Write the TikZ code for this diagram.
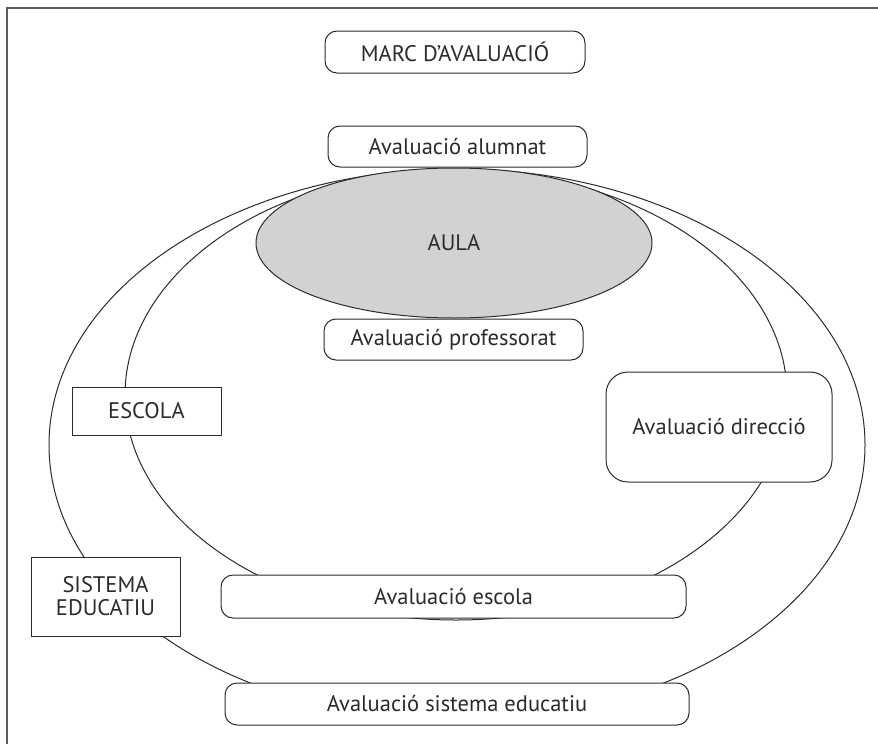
\documentclass[tikz,border=0pt]{standalone}
\usepackage{fontspec}
\setmainfont{PT Sans}
\usetikzlibrary{shapes.geometric}
\definecolor{ink}{HTML}{2B2B2B}
\definecolor{frame}{HTML}{5A5A5A}
\definecolor{aulagray}{HTML}{D1D2D4}
\tikzset{
  lbl/.style={font=\fontsize{22.5}{25}\selectfont, text=ink},
  rbox/.style={lbl, draw=ink, line width=1pt, fill=white, rounded corners=12pt, inner sep=0pt},
  sbox/.style={lbl, draw=ink, line width=1pt, fill=white, inner sep=0pt, align=center},
  ring/.style={draw=ink, line width=1pt},
}
\begin{document}
\begin{tikzpicture}[x=1pt,y=-1pt]
\useasboundingbox (0,0) rectangle (878,744);
% frame (top and left edges only)
\draw[frame, line width=2pt] (6.5,744) -- (6.5,7.5) -- (878,7.5);
% ellipses
\draw[ring] (457,445) ellipse [x radius=408, y radius=276];
\draw[ring] (456,395) ellipse [x radius=331, y radius=225];
\node[ellipse, draw=ink, line width=1pt, fill=aulagray, minimum width=396, minimum height=150, inner sep=0pt, lbl] (aula) at (454,243) {AULA};
% boxes
\node[rbox, minimum width=260, minimum height=42] (marc) at (455,52) {MARC D’AVALUACIÓ};
\node[rbox, minimum width=259, minimum height=41] (alum) at (457.5,146.5) {Avaluació alumnat};
\node[rbox, minimum width=259, minimum height=41] (prof) at (453.5,339.5) {Avaluació professorat};
\node[sbox, minimum width=149, minimum height=48] (escola) at (146.5,411) {ESCOLA};
\node[rbox, rounded corners=22pt, minimum width=226, minimum height=110] (dir) at (719,427) {Avaluació direcció};
\node[sbox, minimum width=149, minimum height=79] (sist) at (105.5,596.5) {SISTEMA\\[-2pt]EDUCATIU};
\node[rbox, minimum width=465, minimum height=43] (aesc) at (453.5,596.5) {Avaluació escola};
\node[rbox, minimum width=464, minimum height=42] (asist) at (457,704) {Avaluació sistema educatiu};
\end{tikzpicture}
\end{document}
